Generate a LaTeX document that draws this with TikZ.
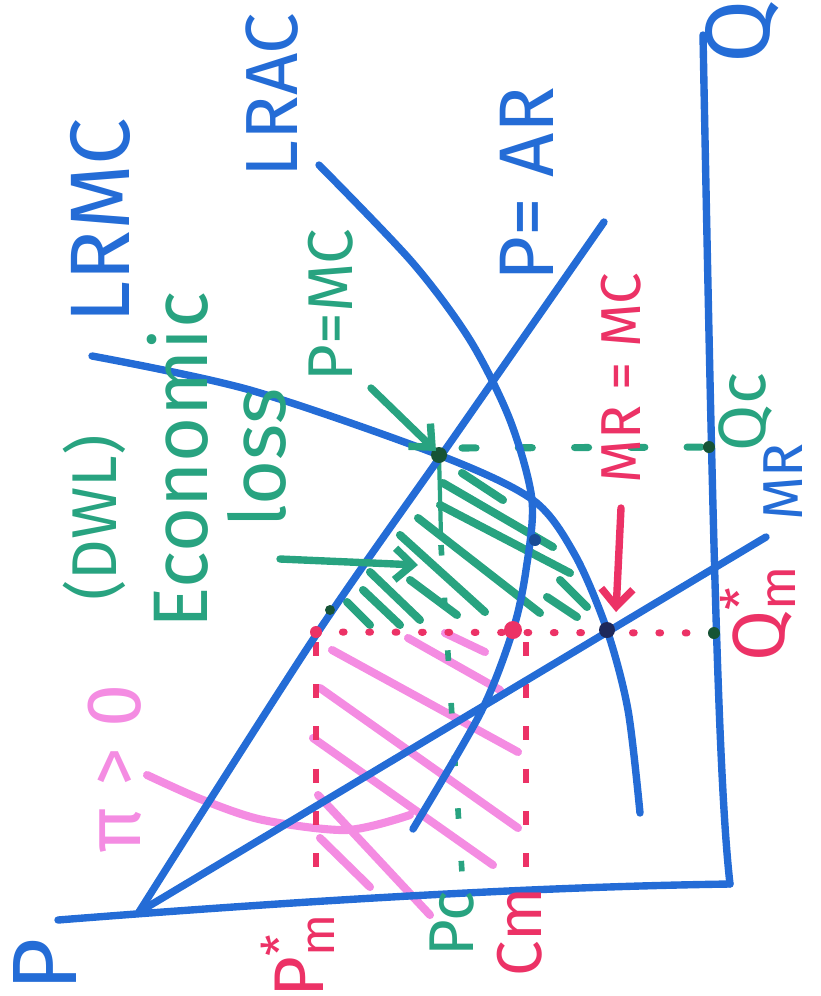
\documentclass[tikz,border=0pt]{standalone}
\usepackage{fontspec}
\setmainfont{Fira Sans}
\usetikzlibrary{arrows.meta}
\definecolor{penblue}{RGB}{36,108,214}
\definecolor{pengreen}{RGB}{40,163,128}
\definecolor{penred}{RGB}{236,50,102}
\definecolor{penpink}{RGB}{244,140,226}
\definecolor{dotgreen}{RGB}{22,84,54}
\definecolor{dotnavy}{RGB}{30,40,90}

\begin{document}
\begin{tikzpicture}[x=0.01cm, y=-0.01cm, >={Straight Barb[length=5pt,width=9pt]},
    pen/.style={line width=2.1pt, line cap=round, line join=round},
    hatch/.style={line width=2.3pt, line cap=round},
    lab/.style={rotate=90, inner sep=0pt, font=\fontsize{#1}{#1}\selectfont}]
    \useasboundingbox (0,0) rectangle (820,996);

    % key points
    \coordinate (O) at (139,912);
    \coordinate (Pend) at (58,920);
    \coordinate (corner) at (730,884);
    \coordinate (Qtop) at (703,35);
    \coordinate (ARend) at (604,222);
    \coordinate (MRend) at (766,537);
    \coordinate (cpt) at (439,455);
    \coordinate (mpt) at (607,630);
    \coordinate (qcdot) at (709,447);
    \coordinate (qmdot) at (714,633);
    \coordinate (pmtop) at (316,632);
    \coordinate (cmtop) at (513,630);
    \coordinate (dpt) at (330,610);

    % pink hatching (profit)
    \foreach \xa/\ya/\xb/\yb in {332/650/518/752, 320/688/518/828, 313/738/493/865,
                       318/795/430/915, 320/838/370/887, 408/638/500/690, 445/633/485/652}
      {\draw[hatch, penpink] (\xa,\ya) -- (\xb,\yb);}
    \draw[hatch, penpink] plot[smooth] coordinates {(147,775) (203,800) (263,820) (347,830) (410,815)};

    % green hatching (DWL)
    \foreach \xa/\ya/\xb/\yb in {462/473/503/500, 443/483/553/547, 440/505/570/573, 418/518/540/613,
                       400/535/485/612, 410/580/457/615, 370/572/420/620, 363/590/400/625,
                       347/602/370/625, 547/597/577/617, 560/580/587/607}
      {\draw[hatch, pengreen] (\xa,\ya) -- (\xb,\yb);}

    % guide lines
    \draw[penred, line width=2pt, line cap=round, dash pattern=on 0.5pt off 7pt] (pmtop) -- (qmdot);
    \draw[penred, line width=1.6pt, dash pattern=on 4pt off 8pt] (316,642) -- (316,893);
    \draw[penred, line width=1.6pt, dash pattern=on 4pt off 8pt] (526,642) -- (526,888);
    \draw[pengreen, line width=1.2pt] (cpt) -- (441,537);
    \draw[pengreen, line width=1.6pt, dash pattern=on 3pt off 12pt] (441,545) -- (463,888);
    \draw[pengreen, line width=2pt, line cap=round, dash pattern=on 4pt off 12pt] (462,448) -- (qcdot);

    % axes
    \draw[pen, penblue] (Pend) .. controls (400,893) and (600,886) .. (corner);
    \draw[pen, penblue] (corner) .. controls (718,780) and (712,500) .. (Qtop);

    % curves
    \draw[pen, penblue] plot[smooth] coordinates {(O) (316,635) (452,440) (ARend)};
    \draw[pen, penblue] (O) -- (MRend);
    \draw[pen, penblue] plot[smooth] coordinates {(92,356) (250,390) (cpt) (533,500) (575,555) (mpt) (628,710) (640,813)};
    \draw[pen, penblue] plot[smooth] coordinates {(319,165) (412,262) (470,340) (510,420) (532,500) (526,570) (cmtop) (481,712) (413,829)};

    % dots
    \fill[dotgreen] (cpt) circle (8);
    \fill[dotgreen] (qcdot) circle (6);
    \fill[dotgreen] (qmdot) circle (6);
    \fill[dotgreen] (dpt) circle (5);
    \fill[penred] (pmtop) circle (6);
    \fill[penred] (cmtop) circle (9);
    \fill[dotnavy] (mpt) circle (8);
    \fill[penblue!70!black] (535,540) circle (6);

    % arrows
    \draw[pen, pengreen, ->] (371,388) -- (436,451);
    \draw[pen, pengreen, ->] (280,559) -- (418,565);
    \draw[pen, penred, ->] (621,508) -- (616,612);

    % labels
    \node[lab=24, penblue] (lrmc) at (100,221) {LRMC};
    \node[lab=21, penblue] (lrac) at (272,95) {LRAC};
    \node[lab=22, penblue] (par) at (527,184) {P= AR};
    \node[lab=26, penblue] (qlab) at (742,32) {Q};
    \node[lab=26, penblue] (plab) at (45,965) {P};
    \node[lab=16, penblue] (mrlab) at (783,482) {MR};
    \node[lab=19, pengreen] (qc) at (746,412) {Qc};
    \node[lab=18, pengreen] (dwl) at (94,518) {(DWL)};
    \node[lab=22, pengreen] (econ) at (178,460) {Economic};
    \node[lab=22, pengreen] (loss) at (257,458) {loss};
    \node[lab=18, pengreen] (pmc) at (331,305) {P=MC};
    \node[lab=16, penred] (mrmc) at (621,378) {MR = MC};
    \node[lab=21, penred] (qm) at (758,613) {Q\rlap{\textsuperscript{*}}\textsubscript{m}};
    \node[lab=20, penred] (pm) at (298,955) {P\rlap{\textsuperscript{*}}\textsubscript{m}};
    \node[lab=18, pengreen] (pc) at (452,924) {Pc};
    \node[lab=18, penred] (cm) at (520,932) {Cm};
    \node[lab=22, penpink] (profit) at (115,769) {π > 0};
\end{tikzpicture}
\end{document}
